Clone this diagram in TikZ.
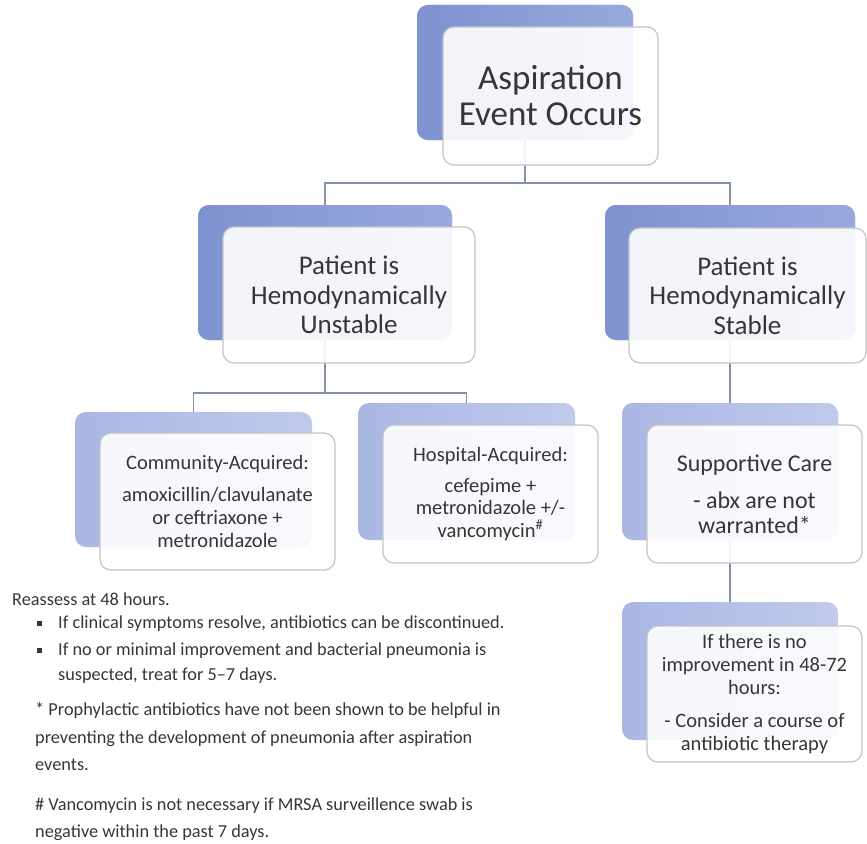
\documentclass[tikz,border=0pt]{standalone}
\usepackage{fontspec}
\setmainfont{Carlito}
\definecolor{txt}{HTML}{363636}
\definecolor{lineC}{HTML}{8592AD}
\definecolor{frameC}{HTML}{C4C4C4}
\definecolor{bA}{HTML}{7E92D0}
\definecolor{bB}{HTML}{98A9DC}
\definecolor{cA}{HTML}{AAB7E3}
\definecolor{cB}{HTML}{BFCAEC}
\tikzset{
 backbox/.style={rounded corners=11pt, left color=bA, right color=bB, draw=none, inner sep=0pt},
 backlight/.style={rounded corners=11pt, left color=cA, right color=cB, draw=none, inner sep=0pt},
 frontbox/.style={rounded corners=11pt, fill=white, fill opacity=0.9, text opacity=1, draw=frameC, line width=1.2pt, text=txt, align=center, inner sep=0pt},
 conn/.style={draw=lineC, line width=1.6pt},
 note/.style={anchor=base west, inner sep=0pt, text=txt, font=\fontsize{18.3}{22}\selectfont}
}
\begin{document}
\begin{tikzpicture}[x=1pt,y=-1pt]
\useasboundingbox (0,0) rectangle (867,843);
% back boxes
\node[backbox, minimum width=216pt, minimum height=135pt] (topB) at (525,72.5) {};
\node[backbox, minimum width=254pt, minimum height=135pt] (unB) at (325,272.5) {};
\node[backbox, minimum width=250pt, minimum height=135pt] (stB) at (730,272.5) {};
\node[backlight, minimum width=237pt, minimum height=135pt] (caB) at (193.5,479.5) {};
\node[backlight, minimum width=217pt, minimum height=137pt] (haB) at (466.5,471.5) {};
\node[backlight, minimum width=216pt, minimum height=137pt] (spB) at (730,471.5) {};
\node[backlight, minimum width=216pt, minimum height=138pt] (imB) at (730,671) {};
% connectors
\coordinate (j1) at (525,183);
\coordinate (j2) at (325,393);
\draw[conn] (topB.center) -- (j1);
\draw[conn] (unB.north) -- (unB.north |- j1) -- (stB.north |- j1) -- (stB.north);
\draw[conn] (unB.center) -- (j2);
\draw[conn] (caB.north) -- (caB.north |- j2) -- (haB.north |- j2) -- (haB.north);
\draw[conn] (stB.center) -- (spB.north);
\draw[conn] (spB.center) -- (imB.north);
% redraw back boxes over connector starts
\node[backbox, minimum width=216pt, minimum height=135pt] at (topB) {};
\node[backbox, minimum width=254pt, minimum height=135pt] at (unB) {};
\node[backbox, minimum width=250pt, minimum height=135pt] at (stB) {};
\node[backlight, minimum width=216pt, minimum height=137pt] at (spB) {};
% front boxes
\node[frontbox, minimum width=215pt, minimum height=138pt, font=\fontsize{35}{36}\selectfont] (top) at (550.5,96) {Aspiration\\Event Occurs};
\node[frontbox, minimum width=252pt, minimum height=136pt, font=\fontsize{27}{29.5}\selectfont] (un) at (349,295) {Patient is\\Hemodynamically\\Unstable};
\node[frontbox, minimum width=237pt, minimum height=135pt, font=\fontsize{27}{29.5}\selectfont] (st) at (747.5,295.5) {Patient is\\Hemodynamically\\Stable};
\node[frontbox, minimum width=235pt, minimum height=137pt, font=\fontsize{20.5}{23}\selectfont] (ca) at (217.5,501.5) {Community-Acquired:\\[9pt]amoxicillin/clavulanate\\or ceftriaxone +\\metronidazole};
\node[frontbox, minimum width=215pt, minimum height=138pt, font=\fontsize{20.5}{22.5}\selectfont] (ha) at (490.5,494) {Hospital-Acquired:\\[8pt]cefepime +\\metronidazole +/-\\vancomycin\textsuperscript{\#}};
\node[frontbox, minimum width=215pt, minimum height=138pt, font=\fontsize{24}{25}\selectfont] (sp) at (754.5,494) {Supportive Care\\[12pt]- abx are not\\warranted*};
\node[frontbox, minimum width=215pt, minimum height=136pt, font=\fontsize{20.5}{23}\selectfont] (im) at (754.5,694) {If there is no\\improvement in 48-72\\hours:\\[10pt]- Consider a course of\\antibiotic therapy};
% notes
\node[note] (n1) at (12,605) {Reassess at 48 hours.};
\node[note] (n2) at (37,628) {\makebox[21pt][l]{\raisebox{2.5pt}{\rule{4.5pt}{4.5pt}}}If clinical symptoms resolve, antibiotics can be discontinued.};
\node[note] (n3) at (37,655) {\makebox[21pt][l]{\raisebox{2.5pt}{\rule{4.5pt}{4.5pt}}}If no or minimal improvement and bacterial pneumonia is};
\node[note] (n4) at (58,680) {suspected, treat for 5--7 days.};
\node[note] (n5) at (35,715) {* Prophylactic antibiotics have not been shown to be helpful in};
\node[note] (n6) at (35,743) {preventing the development of pneumonia after aspiration};
\node[note] (n7) at (35,770) {events.};
\node[note] (n8) at (35,810) {\# Vancomycin is not necessary if MRSA surveillence swab is};
\node[note] (n9) at (35,837) {negative within the past 7 days.};
\end{tikzpicture}
\end{document}
